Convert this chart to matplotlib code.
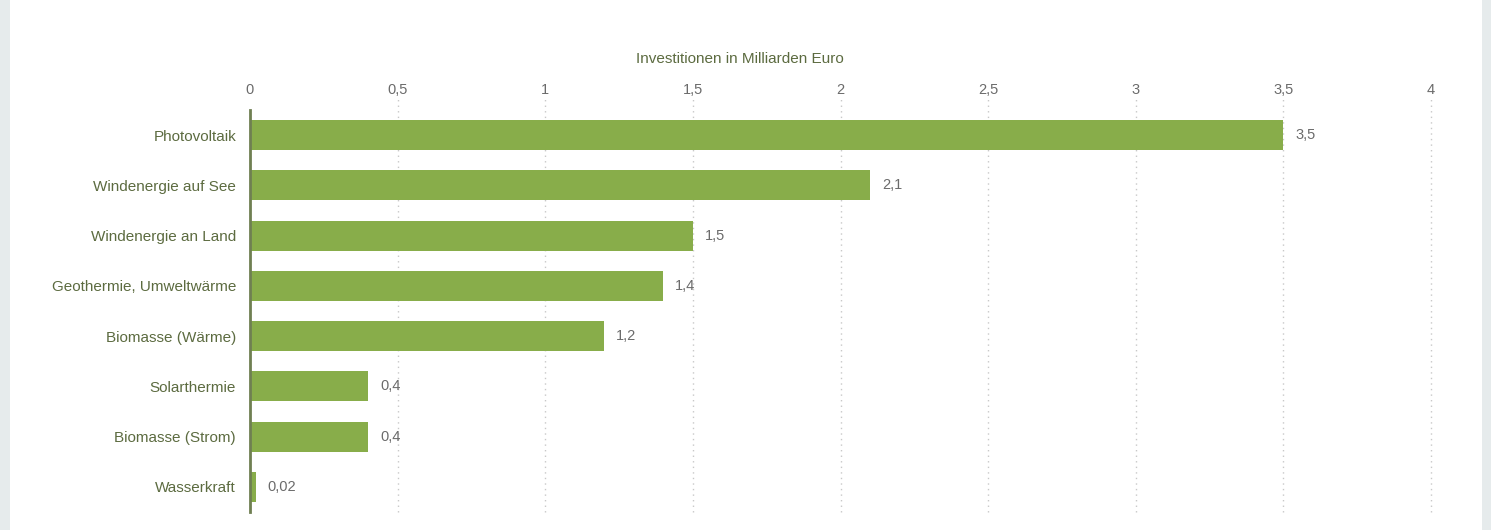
import matplotlib
matplotlib.use("Agg")
import matplotlib.pyplot as plt
from matplotlib.patches import Rectangle

categories = ["Photovoltaik", "Windenergie auf See", "Windenergie an Land",
              "Geothermie, Umweltwärme", "Biomasse (Wärme)", "Solarthermie",
              "Biomasse (Strom)", "Wasserkraft"]
values = [3.5, 2.1, 1.5, 1.4, 1.2, 0.4, 0.4, 0.02]
value_labels = ["3,5", "2,1", "1,5", "1,4", "1,2", "0,4", "0,4", "0,02"]
xticks = [0, 0.5, 1, 1.5, 2, 2.5, 3, 3.5, 4]
xtick_labels = ["0", "0,5", "1", "1,5", "2", "2,5", "3", "3,5", "4"]
axis_title = "Investitionen in Milliarden Euro"

plt.rcParams['font.family'] = ['Liberation Sans', 'DejaVu Sans']

W, H = 1491, 530
fig = plt.figure(figsize=(W / 100, H / 100), dpi=100, facecolor='#e6ebec')
fig.patches.append(Rectangle((10 / W, 0), (1482 - 10) / W, 1, transform=fig.transFigure,
                             facecolor='white', edgecolor='none', zorder=-10))

ax = fig.add_axes([250 / W, 1 - 512 / H, (1431 - 250) / W, (512 - 110) / H])
ax.set_facecolor('none')
ax.set_zorder(2)

fs = 11
bar_color = '#88ad4a'
ypos = list(range(len(categories)))
ax.barh(ypos, values, height=0.6, color=bar_color, zorder=3)
ax.set_ylim(len(categories) - 0.5, -0.5)
ax.set_xlim(0, 4)

for y, v, lab in zip(ypos, values, value_labels):
    ax.text(v + 0.04, y, lab, va='center', ha='left', fontsize=fs - 0.5, color='#6b6b6b', zorder=4)

ax.set_yticks(ypos)
ax.set_yticklabels(categories, fontsize=fs, color='#5c6b40')
ax.tick_params(axis='y', length=0, pad=10)

ax.xaxis.tick_top()
ax.set_xticks(xticks)
ax.set_xticklabels(xtick_labels, fontsize=fs - 0.5, color='#6b6b6b')
ax.tick_params(axis='x', length=0, pad=9)

for x in xticks[1:]:
    ax.axvline(x, ymin=0, ymax=1.03, color='#c8c8c8', linestyle=(0, (1, 3)), linewidth=1,
               zorder=1, clip_on=False)

for s in ['top', 'right', 'bottom']:
    ax.spines[s].set_visible(False)
ax.spines['left'].set_color('#6f7f52')
ax.spines['left'].set_linewidth(2)
ax.spines['left'].set_zorder(5)

fig.text(740 / W, 1 - 59 / H, axis_title,
         ha='center', va='center', fontsize=fs, color='#5c6b40')

fig.savefig("out.png", dpi=100, facecolor=fig.get_facecolor())
